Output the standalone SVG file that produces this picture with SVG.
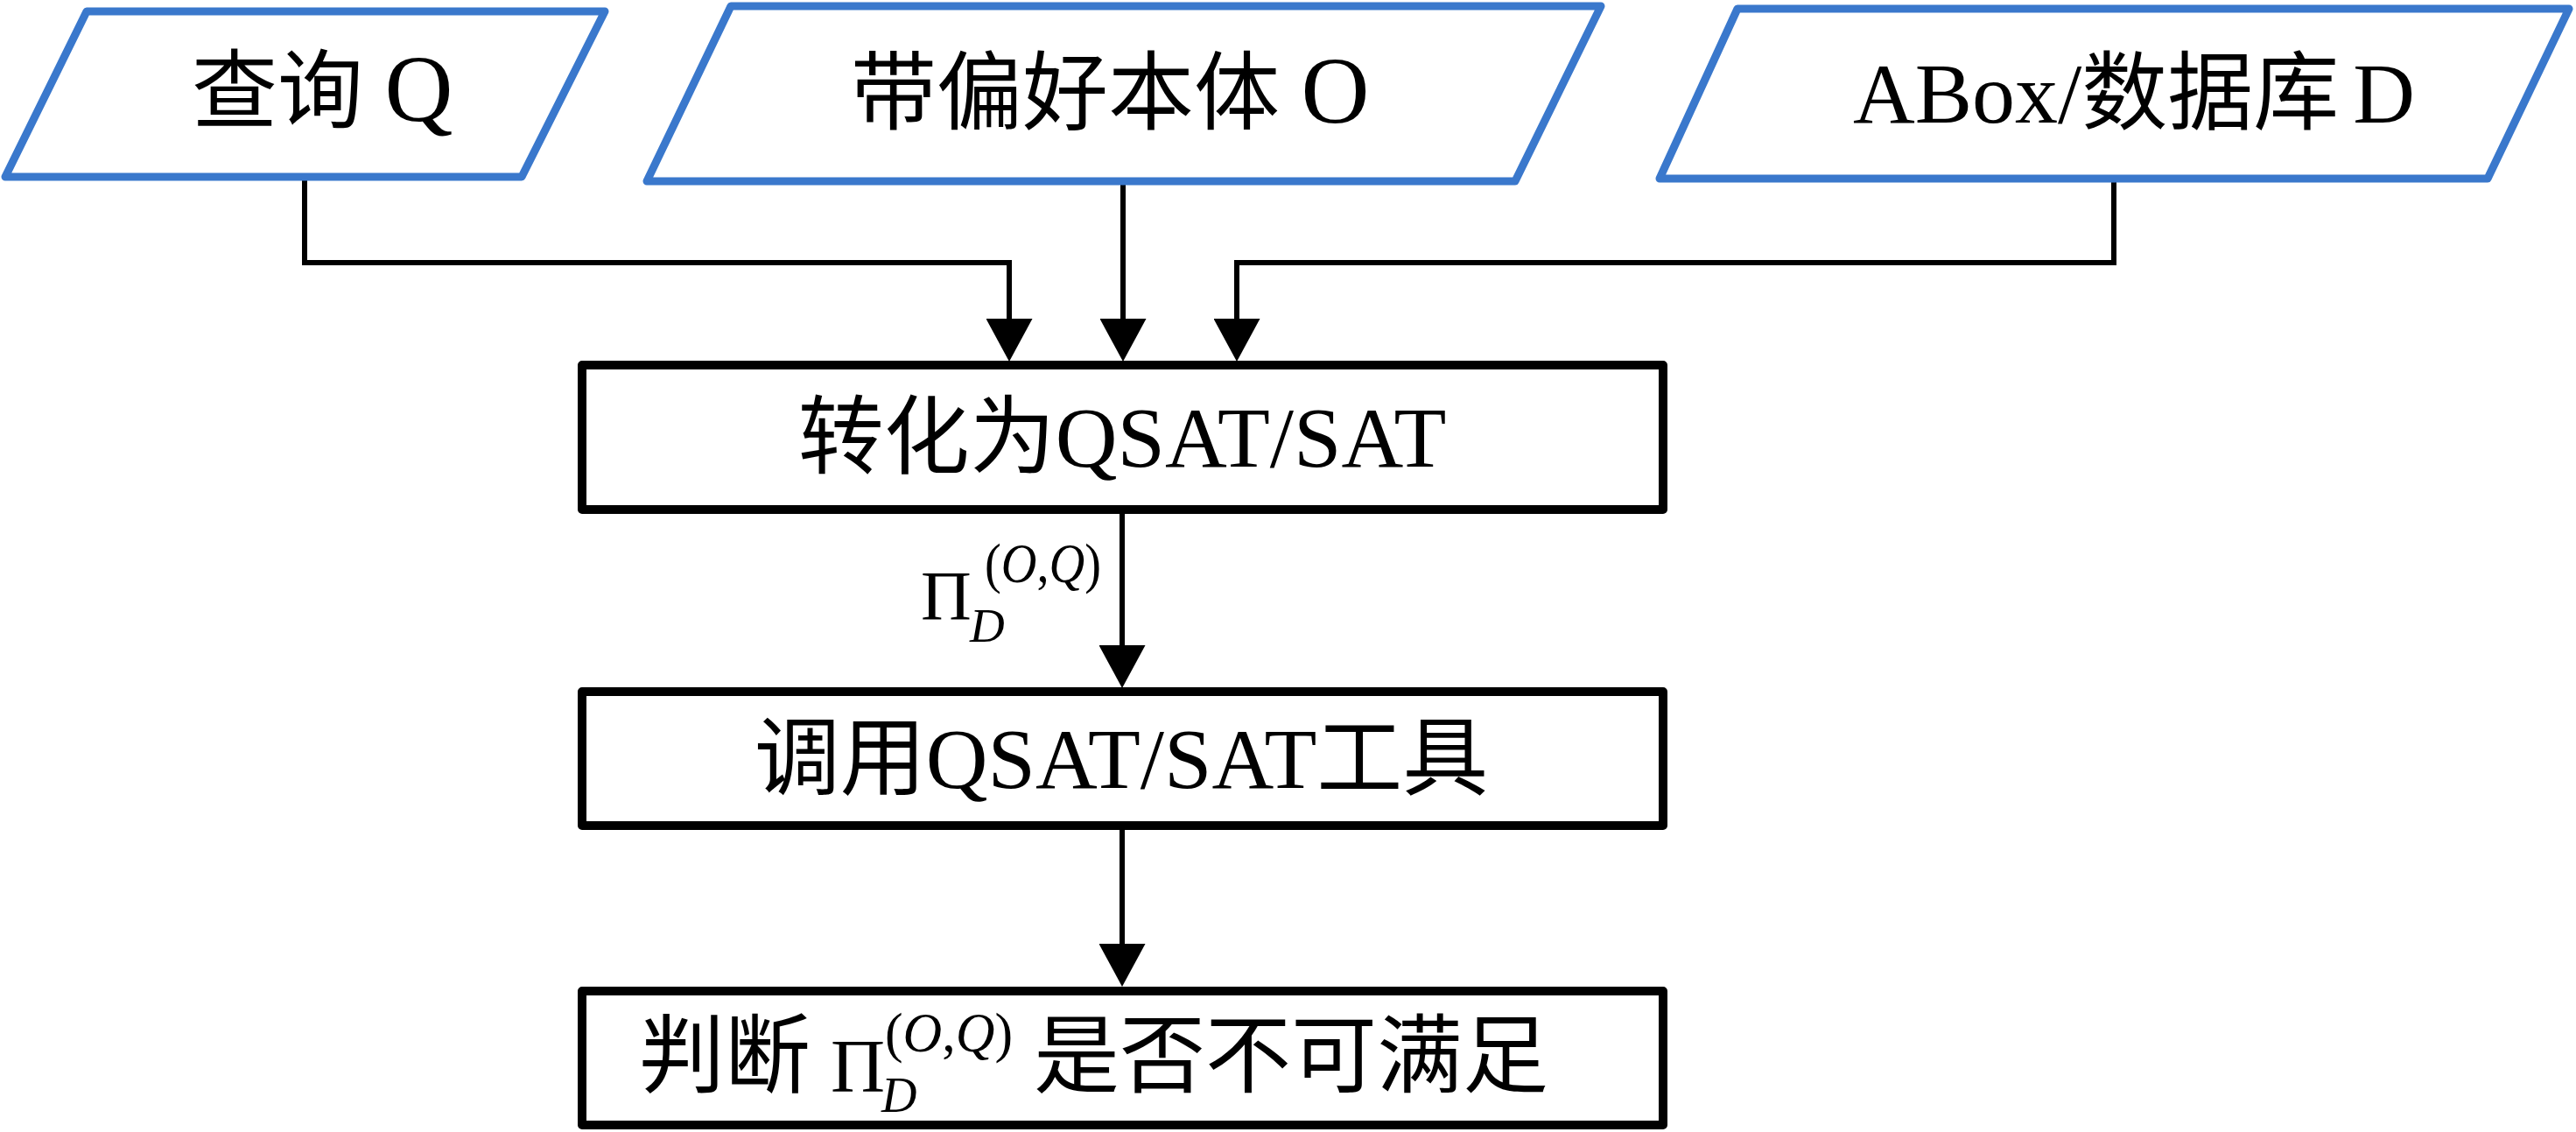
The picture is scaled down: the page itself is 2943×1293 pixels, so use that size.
<svg xmlns="http://www.w3.org/2000/svg" width="2943" height="1293" viewBox="0 0 2943 1293">
<style>
  .io { fill: #ffffff; stroke: #3A78CC; stroke-width: 9; stroke-linejoin: round; }
  .proc { fill: #ffffff; stroke: #000000; stroke-width: 10; stroke-linejoin: round; }
  .conn { fill: none; stroke: #000000; stroke-width: 6; stroke-linejoin: miter; }
  .t { font-family: "Liberation Serif", "Noto Sans CJK SC", serif; font-size: 98px; fill: #000000; }
  .m { font-family: "Liberation Serif", "Noto Sans CJK SC", serif; fill: #000000; }
  .it { font-style: italic; }
  .big { font-size: 108px; }
</style>
<defs>
  <marker id="arrow" markerUnits="userSpaceOnUse" markerWidth="49" markerHeight="53" refX="0" refY="26.5" orient="auto" viewBox="0 0 49 53">
    <path d="M0,0 L49,26.5 L0,53 Z" fill="#000000"/>
  </marker>
</defs>
<rect x="0" y="0" width="2943" height="1293" fill="#ffffff"/>

<g id="connectors">
  <path class="conn" d="M348,202 V300 H1153 V364" marker-end="url(#arrow)"/>
  <path class="conn" d="M1283,207 V364" marker-end="url(#arrow)"/>
  <path class="conn" d="M2415,204 V300 H1413 V364" marker-end="url(#arrow)"/>
  <path class="conn" d="M1282,582 V737" marker-end="url(#arrow)"/>
  <path class="conn" d="M1282,943 V1078" marker-end="url(#arrow)"/>
</g>

<g id="node-query">
  <polygon class="io" points="99,13 691,13 596,202 6,202"/>
  <text class="t" x="219" y="138">查询 <tspan class="big">Q</tspan></text>
</g>

<g id="node-ontology">
  <polygon class="io" points="835,7 1829,7 1731,207 739,207"/>
  <text class="t" x="972" y="140">带偏好本体 <tspan class="big">O</tspan></text>
</g>

<g id="node-abox">
  <polygon class="io" points="1985,10 2935,10 2842,204 1896,204"/>
  <text class="t" x="2438" y="140" text-anchor="middle" font-size="100">ABox/数据库<tspan dx="16">D</tspan></text>
</g>

<g id="node-convert">
  <rect class="proc" x="665" y="417" width="1235" height="165"/>
  <text class="t" x="1282" y="533" text-anchor="middle">转化为QSAT/SAT</text>
</g>

<g id="label-pi">
  <text class="m" x="1052" y="708" font-size="80">Π</text>
  <text class="m" x="1125" y="665" font-size="64" textLength="133" lengthAdjust="spacingAndGlyphs">(<tspan class="it">O</tspan>,<tspan class="it">Q</tspan>)</text>
  <text class="m it" x="1108" y="733" font-size="55">D</text>
</g>

<g id="node-solver">
  <rect class="proc" x="665" y="790" width="1235" height="153"/>
  <text class="t" x="1281" y="900" text-anchor="middle">调用QSAT/SAT工具</text>
</g>

<g id="node-judge">
  <rect class="proc" x="665" y="1132" width="1235" height="153"/>
  <text class="t" x="730" y="1240">判断</text>
  <text class="m" x="949" y="1247" font-size="86">Π</text>
  <text class="m" x="1011" y="1201" font-size="64" textLength="146" lengthAdjust="spacingAndGlyphs">(<tspan class="it">O</tspan>,<tspan class="it">Q</tspan>)</text>
  <text class="m it" x="1007" y="1270" font-size="56">D</text>
  <text class="t" x="1181" y="1240">是否不可满足</text>
</g>
</svg>
